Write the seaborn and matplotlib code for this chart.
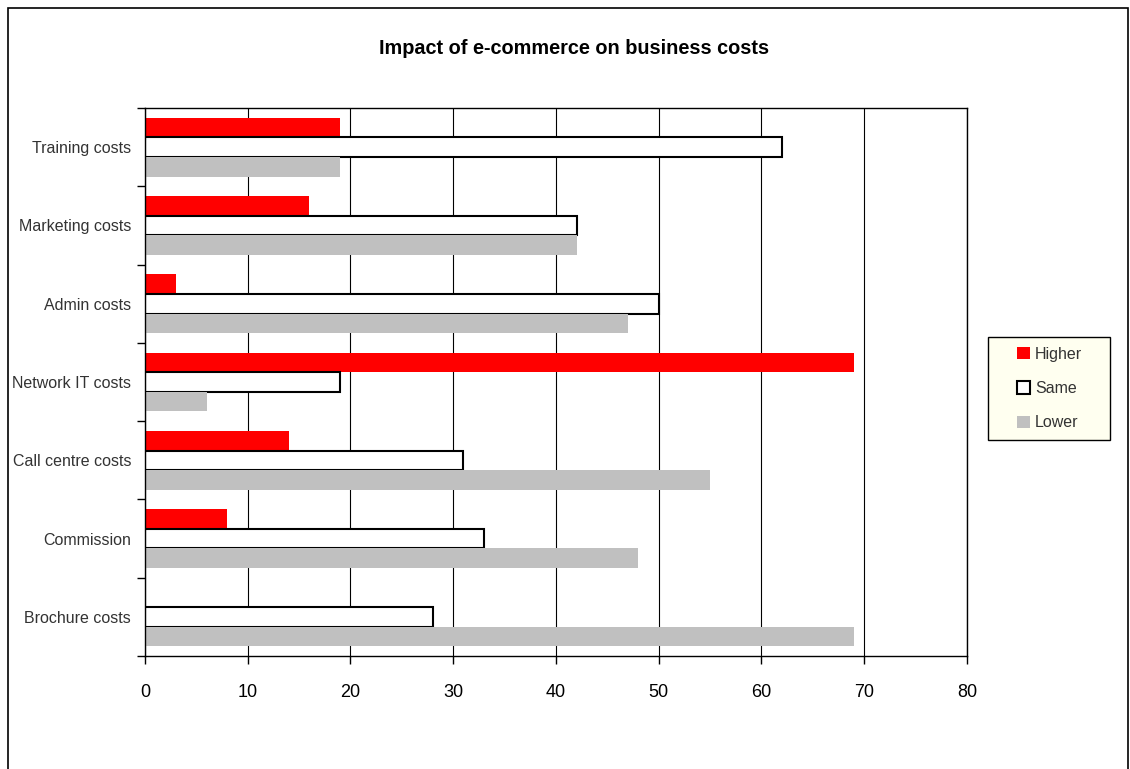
import numpy as np
import pandas as pd
import seaborn as sns
import matplotlib.pyplot as plt
from matplotlib.patches import Rectangle

# Survey shares (%) by cost category, top to bottom as shown.
categories = ["Training costs", "Marketing costs", "Admin costs", "Network IT costs",
              "Call centre costs", "Commission", "Brochure costs"]
higher = [19, 16, 3, 69, 14, 8, 0]
same = [62, 42, 50, 19, 31, 33, 28]
lower = [19, 42, 47, 6, 55, 48, 69]
levels = ["Higher", "Same", "Lower"]
colors = {"Higher": "#FF0000", "Same": "#FFFFFF", "Lower": "#C0C0C0"}

df = pd.DataFrame({
    "category": categories * 3,
    "impact": [lv for lv in levels for _ in categories],
    "value": higher + same + lower,
})

sns.set_style("white")
plt.rcParams["font.family"] = ["Liberation Sans", "DejaVu Sans"]

fig = plt.figure(figsize=(11.3, 7.69), dpi=100)
ax = fig.add_axes([0.1283, 0.1469, 0.7274, 0.7126])

sns.barplot(data=df, y="category", x="value", hue="impact", order=categories,
            hue_order=levels, palette=colors, width=0.75, orient="h",
            saturation=1, ax=ax, legend=False)

for lv, cont in zip(levels, ax.containers):
    for bar in cont:
        if lv == "Same":
            bar.set_edgecolor("black")
            bar.set_linewidth(1.5)
        else:
            bar.set_edgecolor("none")

ax.set_xlim(0, 80)
ax.set_ylim(len(categories) - 0.5, -0.5)
ax.set_xticks(np.arange(0, 81, 10))
ax.tick_params(axis="x", direction="out", length=6, width=1, color="black",
               labelsize=13, labelcolor="black", pad=14, bottom=True)
ax.set_yticks(range(len(categories)))
ax.set_yticklabels(categories, fontsize=11.5, color="#333333")
ax.set_yticks(np.arange(-0.5, len(categories)), minor=True)
ax.tick_params(axis="y", which="major", length=0, pad=10)
ax.tick_params(axis="y", which="minor", direction="out", length=6, width=1,
               color="black", left=True)
ax.set_xlabel("")
ax.set_ylabel("")
ax.xaxis.grid(True, color="black", linewidth=0.8)
ax.set_axisbelow(True)
for sp in ax.spines.values():
    sp.set_visible(True)
    sp.set_color("black")
    sp.set_linewidth(1)

fig.text(0.508, 0.937, "Impact of e-commerce on business costs",
         ha="center", va="center", fontsize=14.3, fontweight="bold", color="black")

# Legend: frame drawn separately to match the original box size
fig.patches.append(Rectangle((988 / 1130, 1 - 440 / 769), 122 / 1130, 103 / 769,
                             transform=fig.transFigure, facecolor="#FFFFF0",
                             edgecolor="black", linewidth=1, zorder=2))
handles = [Rectangle((0, 0), 1, 1, facecolor=colors[lv],
                     edgecolor="black" if lv == "Same" else "none",
                     linewidth=1.5) for lv in levels]
leg = fig.legend(handles, levels, loc="center", bbox_to_anchor=(0.929, 0.4948),
                 frameon=False, fontsize=11.5, handlelength=0.8,
                 handleheight=0.8, handletextpad=0.3, labelspacing=1.2,
                 borderpad=0, borderaxespad=0)
leg.set_zorder(3)
for t in leg.get_texts():
    t.set_color("#333333")

# Outer chart border
fig.patches.append(Rectangle((0.007, -0.01), 0.991, 0.999, transform=fig.transFigure,
                             fill=False, edgecolor="black", linewidth=1.2))

fig.savefig("out.png", dpi=100)
